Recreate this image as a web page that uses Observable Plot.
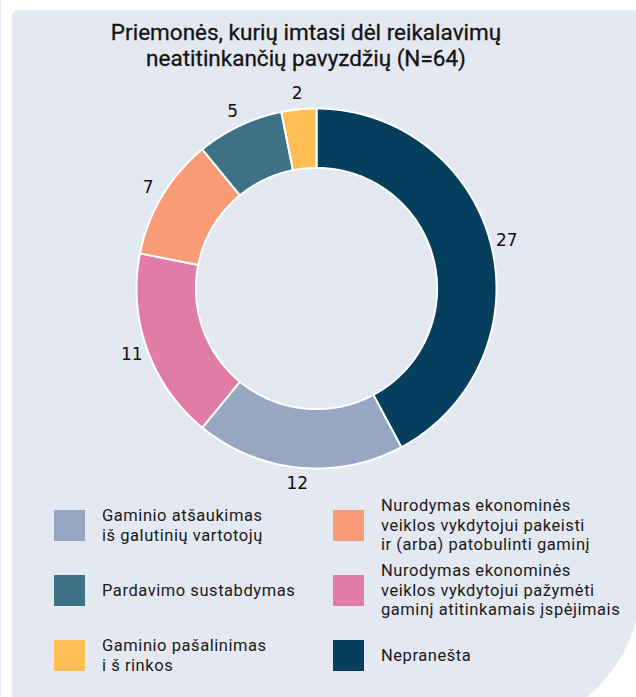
<!DOCTYPE html>
<html>
<head>
<meta charset="utf-8">
<script src="https://cdn.jsdelivr.net/npm/d3@7"></script>
<script src="https://cdn.jsdelivr.net/npm/@observablehq/plot@0.6"></script>
<style>
  html, body { margin: 0; padding: 0; background: #ffffff; }
  body { width: 636px; height: 697px; position: relative; overflow: hidden; font-family: Roboto, "Open Sans", sans-serif; }
  #sliver { position: absolute; left: 0; top: 0; width: 1px; height: 697px; background: #e4e8f0; }
  #panel { position: absolute; left: 12px; top: 10px; width: 630px; height: 722px; background: #e4e8f0; border-radius: 6px 6px 152px 6px; }
  #title { position: absolute; left: 0; top: 19px; width: 612px; text-align: center; font-size: 22.5px; font-weight: 400; line-height: 26px; color: #141414; -webkit-text-stroke: 0.3px #141414; }
  #chart { position: absolute; left: 0; top: 0; }
  #legend { position: absolute; left: 54px; top: 493px; display: grid; grid-template-columns: 279px 300px; grid-auto-rows: 65px; }
  .item { display: flex; align-items: center; }
  .sw { width: 31px; height: 31px; flex: none; margin-right: 17px; }
  .lab { font-size: 16.5px; line-height: 19.5px; letter-spacing: 0.55px; color: #1a1a1a; white-space: nowrap; }
</style>
</head>
<body>
<div id="sliver"></div>
<div id="panel"></div>
<div id="chart"></div>
<div id="title">Priemonės, kurių imtasi dėl reikalavimų<br>neatitinkančių pavyzdžių (N=64)</div>
<div id="legend"></div>
<script>
// ---- data ----
const categories = [
  "Nepranešta",
  "Gaminio atšaukimas iš galutinių vartotojų",
  "Nurodymas ekonominės veiklos vykdytojui pažymėti gaminį atitinkamais įspėjimais",
  "Nurodymas ekonominės veiklos vykdytojui pakeisti ir (arba) patobulinti gaminį",
  "Pardavimo sustabdymas",
  "Gaminio pašalinimas iš rinkos"
];
const values = [27, 12, 11, 7, 5, 2];
const colors = ["#063f5d", "#97a7c1", "#e07ca6", "#f99b76", "#3e7086", "#ffbd55"];

// legend: left column top-to-bottom, then right column top-to-bottom; text lines per category
const legendOrder = [1, 4, 5, 3, 2, 0];
const legendLines = [
  ["Nepranešta"],
  ["Gaminio atšaukimas", "iš galutinių vartotojų"],
  ["Nurodymas ekonominės", "veiklos vykdytojui pažymėti", "gaminį atitinkamais įspėjimais"],
  ["Nurodymas ekonominės", "veiklos vykdytojui pakeisti", "ir (arba) patobulinti gaminį"],
  ["Pardavimo sustabdymas"],
  ["Gaminio pašalinimas", "i š rinkos"]
];

// ---- geometry derived from the values ----
const innerRatio = 0.67;
const labelRadius = 1.09;
const pie = d3.pie().sort(null).value(d => d)(values);

function arcPoints(r, a0, a1) {
  const n = Math.max(2, Math.ceil(Math.abs(a1 - a0) / 0.005));
  const pts = [];
  for (let i = 0; i <= n; i++) {
    const a = a0 + (a1 - a0) * i / n;
    pts.push([r * Math.sin(a), -r * Math.cos(a)]);
  }
  return pts;
}

const slices = pie.map((p, i) => {
  const ring = [...arcPoints(1, p.startAngle, p.endAngle), ...arcPoints(innerRatio, p.endAngle, p.startAngle)];
  ring.push(ring[0]);
  return {type: "Feature", properties: {category: categories[i], value: values[i], color: colors[i]}, geometry: {type: "Polygon", coordinates: [ring]}};
});

const labels = pie.map((p, i) => {
  const a = (p.startAngle + p.endAngle) / 2;
  return {x: labelRadius * Math.sin(a), y: -labelRadius * Math.cos(a), text: String(values[i])};
});

const outline = {type: "Polygon", coordinates: [arcPoints(1, 0, 2 * Math.PI)]};

const chart = Plot.plot({
  width: 636,
  height: 490,
  marginLeft: 136,
  marginRight: 140,
  marginTop: 108,
  marginBottom: 22,
  style: {background: "transparent", overflow: "visible"},
  projection: {type: "identity", domain: outline, clip: false},
  marks: [
    Plot.geo(slices, {fill: d => d.properties.color, stroke: "#ffffff", strokeWidth: 2}),
    Plot.text(labels, {x: "x", y: "y", text: "text", fontSize: 17, fontFamily: "DejaVu Sans", fill: "#111111", clip: false})
  ]
});
document.getElementById("chart").appendChild(chart);

// ---- legend ----
const legend = document.getElementById("legend");
const rows = 3;
for (let r = 0; r < rows; r++) {
  for (let c = 0; c < 2; c++) {
    const idx = legendOrder[c * rows + r];
    const item = document.createElement("div");
    item.className = "item";
    const sw = document.createElement("div");
    sw.className = "sw";
    sw.style.background = colors[idx];
    const lab = document.createElement("div");
    lab.className = "lab";
    lab.innerHTML = legendLines[idx].join("<br>");
    item.appendChild(sw);
    item.appendChild(lab);
    legend.appendChild(item);
  }
}
</script>
</body>
</html>
